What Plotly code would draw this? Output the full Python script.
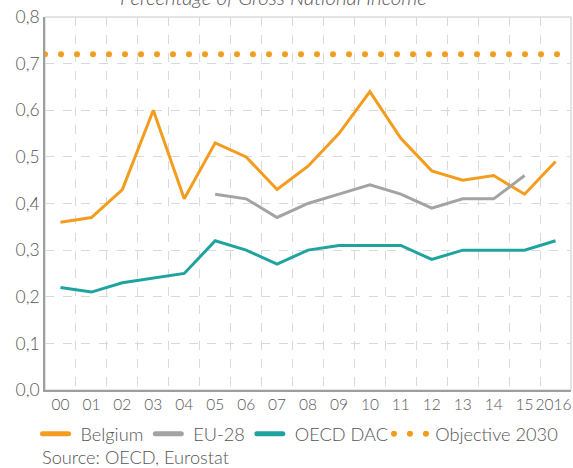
import plotly.graph_objects as go

# Official development assistance, % of GNI
years = ["00", "01", "02", "03", "04", "05", "06", "07", "08",
         "09", "10", "11", "12", "13", "14", "15", "2016\u00a0"]
belgium = [0.36, 0.37, 0.43, 0.60, 0.41, 0.53, 0.50, 0.43, 0.48,
           0.55, 0.64, 0.54, 0.47, 0.45, 0.46, 0.42, 0.49]
eu28 = [None, None, None, None, None, 0.42, 0.41, 0.37, 0.40,
        0.42, 0.44, 0.42, 0.39, 0.41, 0.41, 0.46, None]
oecd_dac = [0.22, 0.21, 0.23, 0.24, 0.25, 0.32, 0.30, 0.27, 0.30,
            0.31, 0.31, 0.31, 0.28, 0.30, 0.30, 0.30, 0.32]
objective_2030 = 0.72

y_ticks = [0.0, 0.1, 0.2, 0.3, 0.4, 0.5, 0.6, 0.7, 0.8]

ORANGE = "#F39C1E"
GREY = "#A3A3A3"
TEAL = "#1FA39F"
TEXT = "#555555"
FONT = "Lato, 'Open Sans', sans-serif"
FS = 17.5       # y tick labels
FS_X = 15.5     # x tick labels
FS_LEG = 18.2   # legend and source line

idx = list(range(len(years)))
NB = "\u00a0"
THIN = "\u2009"

fig = go.Figure()
fig.add_trace(go.Scatter(x=idx, y=belgium, name=NB + "Belgium", mode="lines",
                         line=dict(color=ORANGE, width=3)))
fig.add_trace(go.Scatter(x=idx, y=eu28, name=NB + "EU-28", mode="lines",
                         line=dict(color=GREY, width=3)))
fig.add_trace(go.Scatter(x=idx, y=oecd_dac, name=NB + "OECD DAC", mode="lines",
                         line=dict(color=TEAL, width=3)))
fig.add_trace(go.Scatter(x=[-0.5, len(years) - 0.5],
                         y=[objective_2030, objective_2030],
                         name=THIN + "Objective 2030", mode="lines",
                         line=dict(color=ORANGE, width=6, dash="1px,15px")))

fig.update_layout(
    width=573, height=468,
    margin=dict(l=45, r=2, t=17, b=78, autoexpand=False),
    paper_bgcolor="white", plot_bgcolor="white",
    font=dict(family=FONT, size=FS, color=TEXT, weight=300),
    separators=",.",
    showlegend=True,
    legend=dict(orientation="h", xref="container", yref="container",
                x=0.062, y=0.073, xanchor="left", yanchor="middle",
                font=dict(size=FS_LEG, color=TEXT, weight=300), itemwidth=30,
                tracegroupgap=0, bgcolor="rgba(0,0,0,0)"),
    annotations=[
        dict(text="<i>Percentage of Gross National Income</i>",
             xref="paper", yref="paper", x=0.435, y=1.053,
             xanchor="center", yanchor="middle", showarrow=False,
             font=dict(size=20.5, color=TEXT, weight=300)),
        dict(text="Source: OECD, Eurostat",
             xref="paper", yref="paper", x=-0.009, y=-0.18,
             xanchor="left", yanchor="middle", showarrow=False,
             font=dict(size=FS_LEG, color=TEXT, weight=300)),
    ],
)

fig.update_xaxes(
    range=[-0.5, len(years) - 0.5],
    tickmode="array", tickvals=idx, ticktext=years, tickangle=0,
    automargin=False,
    showgrid=False, ticks="", zeroline=False, ticklabeloverflow="allow",
    showline=True, linecolor="#9E9E9E", linewidth=1.5, mirror=False,
    minor=dict(tickmode="array", tickvals=[i + 0.5 for i in idx[:-1]],
               showgrid=True, griddash="dash", gridcolor="#D9D9D9",
               gridwidth=1, ticks=""),
    tickfont=dict(size=FS_X, color=TEXT, weight=300),
)
fig.update_yaxes(
    range=[0, 0.8], tickmode="array", tickvals=y_ticks, automargin=False,
    tickformat=".1f", showgrid=True, griddash="dash",
    gridcolor="#D9D9D9", gridwidth=1, zeroline=False,
    showline=True, linecolor="#9E9E9E", linewidth=1.5, ticks="",
    tickfont=dict(size=FS, color=TEXT, weight=300),
)

# light frame on the top and right of the plot area
fig.add_shape(type="rect", xref="paper", yref="paper", x0=0, y0=0, x1=1, y1=1,
              line=dict(color="#C8C8C8", width=1), layer="below")

round_dots = """
var gd = document.getElementsByClassName('plotly-graph-div')[0];
function roundDots() {
  var traces = gd.querySelectorAll('.scatterlayer .trace');
  if (traces.length > 3) {
    traces[3].querySelectorAll('path.js-line').forEach(function(p) {
      p.style.strokeLinecap = 'round';
      p.style.strokeDasharray = '0px,16px';
    });
  }
  var legs = gd.querySelectorAll('.legend .traces');
  legs.forEach(function(t, i) {
    t.querySelectorAll('path.js-line').forEach(function(p) {
      p.style.strokeLinecap = 'round';
      if (i === 3) {
        p.style.strokeDasharray = '0px,16px';
        p.setAttribute('d', 'M1,0h32.5');
      } else {
        p.style.strokeWidth = '5px';
        p.setAttribute('d', 'M7,0h26');
      }
    });
  });
}
roundDots();
gd.on('plotly_afterplot', roundDots);
"""

fig.write_html("out.html", post_script=round_dots)
